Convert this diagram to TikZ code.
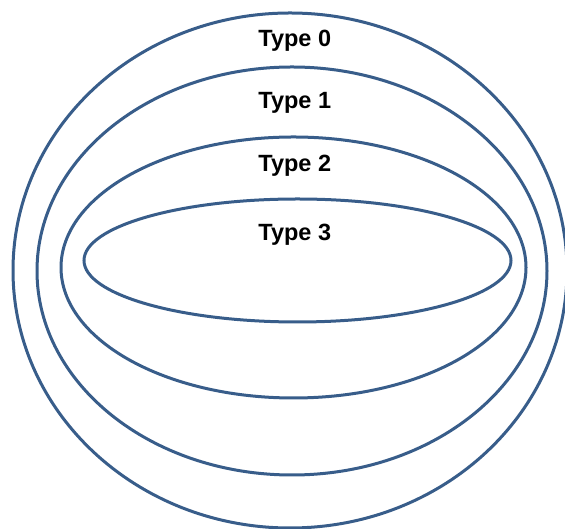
\documentclass[tikz,border=0pt]{standalone}
\usepackage{fontspec}
\setmainfont{Liberation Sans}
\usetikzlibrary{shapes.geometric}
\definecolor{RingBlue}{HTML}{385D8A}

\begin{document}
\begin{tikzpicture}[x=1pt, y=1pt,
  ring/.style={ellipse, draw=RingBlue, line width=3pt, inner sep=0pt, outer sep=0pt},
  lbl/.style={anchor=base, font=\fontsize{23.5}{28}\selectfont\bfseries}
]
\useasboundingbox (0,0) rectangle (565,529);
\node[ring, minimum width=554pt, minimum height=515pt] (t0) at (290,258.5) {};
\node[ring, minimum width=510pt, minimum height=408pt] (t1) at (292,258) {};
\node[ring, minimum width=465pt, minimum height=261pt] (t2) at (293.5,261.5) {};
\node[ring, minimum width=427pt, minimum height=123pt] (t3) at (297.5,268.5) {};
\node[lbl] (l0) at (294.8,482) {Type 0};
\node[lbl] (l1) at (294.8,420) {Type 1};
\node[lbl] (l2) at (294.8,357) {Type 2};
\node[lbl] (l3) at (294.8,288) {Type 3};
\end{tikzpicture}
\end{document}
